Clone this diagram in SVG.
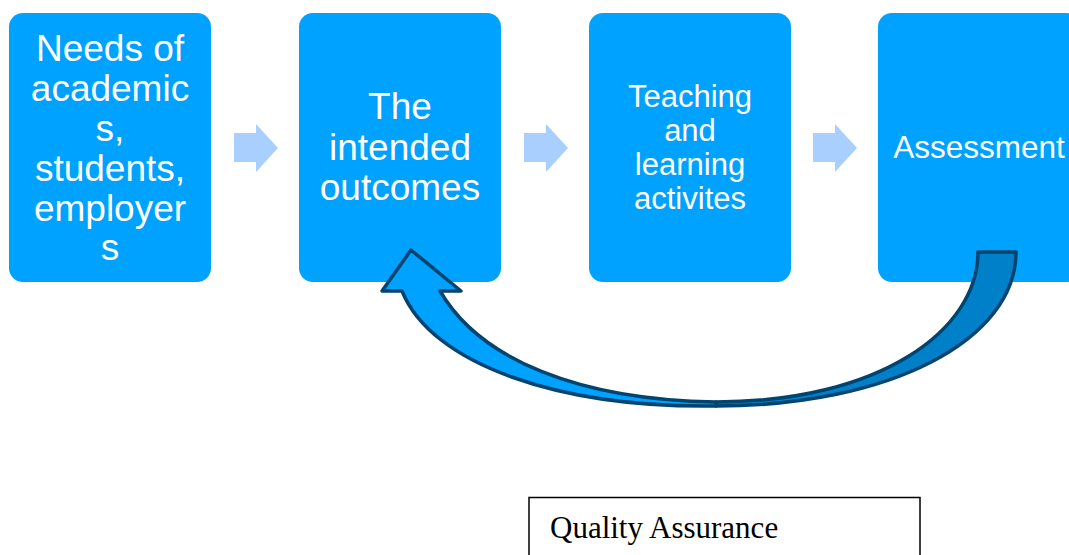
<svg xmlns="http://www.w3.org/2000/svg" width="1069" height="555" viewBox="0 0 1069 555">
<style>
.box{fill:#00A2FF;}
.t{font-family:"Liberation Sans",Arial,sans-serif;fill:#FFFFFF;text-anchor:middle;}
.sa{fill:#A9CFFF;}
.qa{font-family:"Liberation Serif","Times New Roman",serif;fill:#000;}
</style>
<rect width="1069" height="555" fill="#FFFFFF"/>
<g id="node-needs">
<rect class="box" x="9" y="13" width="202" height="269" rx="14"/>
<text class="t" font-size="37" x="110"><tspan x="110" y="61">Needs of</tspan><tspan x="110" y="101">academic</tspan><tspan x="110" y="141">s,</tspan><tspan x="110" y="181">students,</tspan><tspan x="110" y="221">employer</tspan><tspan x="110" y="260">s</tspan></text>
</g>
<g id="node-outcomes">
<rect class="box" x="299" y="13" width="202" height="269" rx="14"/>
<text class="t" font-size="37"><tspan x="400" y="119">The</tspan><tspan x="400" y="160">intended</tspan><tspan x="400" y="200">outcomes</tspan></text>
</g>
<g id="node-teaching">
<rect class="box" x="589" y="13" width="202" height="269" rx="14"/>
<text class="t" font-size="31"><tspan x="690" y="107">Teaching</tspan><tspan x="690" y="141">and</tspan><tspan x="690" y="175">learning</tspan><tspan x="690" y="209">activites</tspan></text>
</g>
<g id="node-assessment">
<rect class="box" x="878" y="13" width="202" height="269" rx="14"/>
<text class="t" font-size="31.5" x="979" y="158">Assessment</text>
</g>
<g id="node-qa">
<rect x="529" y="497.5" width="391" height="70" fill="#FFFFFF" stroke="#000" stroke-width="1.5"/>
<text class="qa" font-size="31" x="550" y="538">Quality Assurance</text>
</g>
<g id="connectors">
<path class="sa" d="M234,133 H256 V124 L278,148 L256,172 V162 H234 Z"/>
<path class="sa" d="M524,133 H546 V124 L568,148 L546,172 V162 H524 Z"/>
<path class="sa" d="M813,133 H835 V124 L857,148 L835,172 V162 H813 Z"/>
<path d="M716,406 C890,406 1016,340 1016,252 H978 C978,330 880,402 716,402 Z" fill="#0080C8" stroke="#00446F" stroke-width="3.5" stroke-linejoin="round"/>
<path d="M716,406 C560,408 432,365 402,291 H382 L411,250 L461,291 H440 C480,360 580,400 716,402 Z" fill="#00A2FF" stroke="#00446F" stroke-width="3.5" stroke-linejoin="round"/>
</g>
</svg>
